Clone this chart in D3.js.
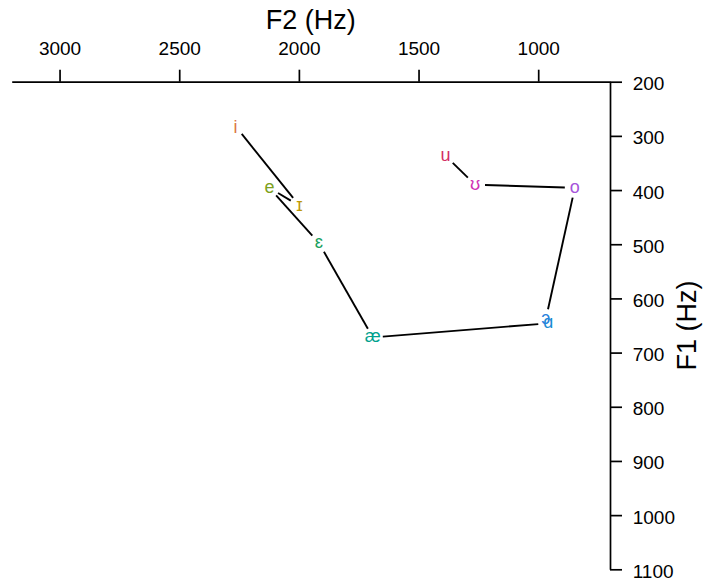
<!DOCTYPE html>
<html>
<head>
<meta charset="utf-8">
<script src="https://cdn.jsdelivr.net/npm/d3@7"></script>
<style>
  html, body { margin: 0; padding: 0; background: #fff; }
  svg { display: block; }
  text { font-family: "Liberation Sans", Arial, "DejaVu Sans", sans-serif; }
</style>
</head>
<body>
<svg id="chart" width="722" height="582"></svg>
<script>
// ---- data ----
const vowels = ["i", "ɪ", "e", "ɛ", "æ", "ɑ", "ɔ", "o", "ʊ", "u"];
const f2Values = [2265, 1998, 2123, 1916, 1691, 958, 968, 847, 1264, 1387];
const f1Values = [282, 429, 396, 498, 672, 646, 638, 396, 390, 337];
const vowelColors = ["#DB7848", "#BE9806", "#7DA11C", "#17A05C", "#00A18E", "#1A8CD4", "#2A82DC", "#A553DA", "#D030B6", "#D32F66"];
const f2Ticks = [3000, 2500, 2000, 1500, 1000];
const f1Ticks = [200, 300, 400, 500, 600, 700, 800, 900, 1000, 1100];
const f2Domain = [3200, 700];
const f1Domain = [200, 1100];

const FONT = '"Liberation Sans", Arial, "DejaVu Sans", sans-serif';
const svg = d3.select("#chart");

const x = d3.scaleLinear().domain(f2Domain).range([11.7, 610]);
const y = d3.scaleLinear().domain(f1Domain).range([81.7, 569.3]);

// top axis (F2)
const gx = svg.append("g")
  .attr("transform", `translate(0,${y(f1Domain[0])})`)
  .call(d3.axisTop(x).tickValues(f2Ticks).tickFormat(d3.format("d"))
    .tickSize(12).tickSizeOuter(0).tickPadding(14.7));
gx.selectAll("path, line").attr("stroke", "#000").attr("stroke-width", 1.7);
gx.selectAll("text").attr("font-size", 19).attr("font-family", FONT).attr("fill", "#000");

// right axis (F1)
const gy = svg.append("g")
  .attr("transform", `translate(${x(f2Domain[1])},0)`)
  .call(d3.axisRight(y).tickValues(f1Ticks).tickFormat(d3.format("d"))
    .tickSize(12).tickSizeOuter(0).tickPadding(10.7));
gy.selectAll("path, line").attr("stroke", "#000").attr("stroke-width", 1.7);
gy.selectAll("text").attr("font-size", 19).attr("font-family", FONT).attr("fill", "#000").attr("dy", "0.42em");

// axis titles
svg.append("text")
  .attr("x", (x.range()[0] + x.range()[1]) / 2)
  .attr("y", 29.3)
  .attr("text-anchor", "middle")
  .attr("font-size", 27)
  .attr("fill", "#000")
  .text("F2 (Hz)");

svg.append("text")
  .attr("transform", `translate(696,${(y.range()[0] + y.range()[1]) / 2}) rotate(-90)`)
  .attr("text-anchor", "middle")
  .attr("font-size", 27)
  .attr("fill", "#000")
  .text("F1 (Hz)");

// points in pixel space
const pts = vowels.map((v, i) => ({ v, px: x(f2Values[i]), py: y(f1Values[i]), c: vowelColors[i] }));

// connecting lines with gaps around labels (like type = "b")
const gap = 10;
const segs = [];
for (let i = 0; i < pts.length - 1; i++) {
  const a = pts[i], b = pts[i + 1];
  const dx = b.px - a.px, dy = b.py - a.py;
  const len = Math.hypot(dx, dy);
  if (len <= 2 * gap) continue;
  const ux = dx / len, uy = dy / len;
  segs.push({ x1: a.px + ux * gap, y1: a.py + uy * gap, x2: b.px - ux * gap, y2: b.py - uy * gap });
}
svg.append("g").selectAll("line").data(segs).join("line")
  .attr("x1", d => d.x1).attr("y1", d => d.y1)
  .attr("x2", d => d.x2).attr("y2", d => d.y2)
  .attr("stroke", "#000").attr("stroke-width", 1.9);

// labels centered on ink box
const labelSize = 18;
const ctx = document.createElement("canvas").getContext("2d");
ctx.font = `${labelSize}px ${FONT}`;
svg.append("g").selectAll("text").data(pts).join("text")
  .attr("x", d => d.px)
  .attr("y", d => {
    const m = ctx.measureText(d.v);
    const asc = m.actualBoundingBoxAscent, desc = m.actualBoundingBoxDescent;
    return d.py + (asc - desc) / 2;
  })
  .attr("text-anchor", "middle")
  .attr("font-size", labelSize)
  .attr("fill", d => d.c)
  .text(d => d.v);
</script>
</body>
</html>
